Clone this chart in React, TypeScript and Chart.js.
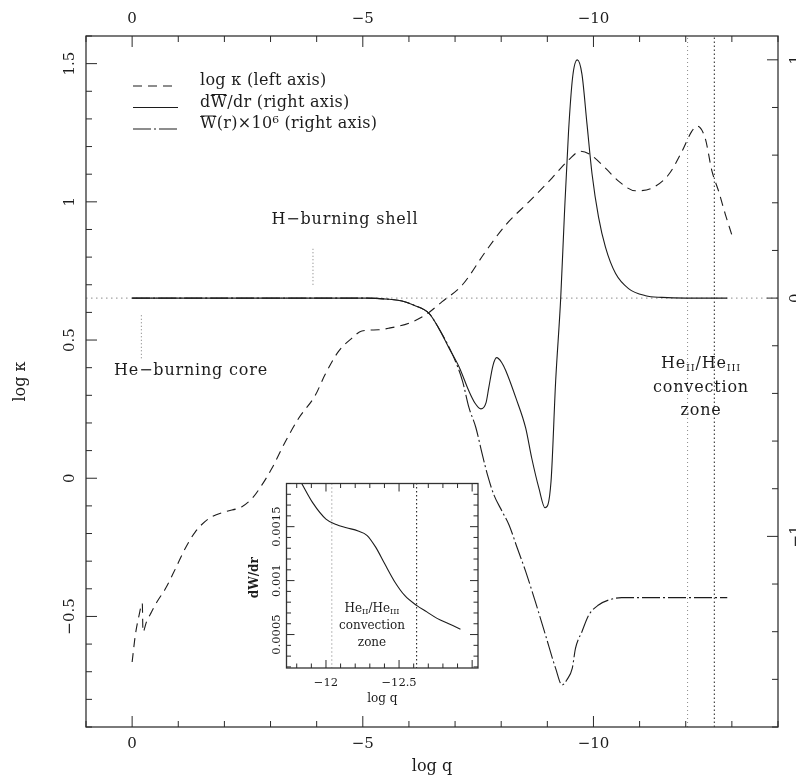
import React, { useEffect, useRef } from 'react';
import { Chart, registerables } from 'chart.js';

Chart.register(...registerables);

const FONT = '"DejaVu Serif", "Liberation Serif", serif';
const INK = '#1c1c1c';

// x = -log q (labelled with a minus sign, as "log q")
const kappaQ = [0, 0.07, 0.15, 0.22, 0.235, 0.31, 0.42, 0.54, 0.72, 0.94, 1.15, 1.37, 1.66, 2.02, 2.38, 2.6, 2.81, 3.03, 3.32, 3.61, 3.97, 4.18, 4.47, 4.76, 4.98, 5.34, 5.57, 6.0, 6.36, 6.72, 7.16, 7.66, 8.1, 8.6, 9.1, 9.47, 9.72, 9.93, 10.26, 10.55, 10.91, 11.27, 11.63, 11.92, 12.13, 12.24, 12.42, 12.57, 12.71, 12.86, 13.0];
const kappaLog = [-0.665, -0.567, -0.496, -0.453, -0.556, -0.52, -0.484, -0.447, -0.4, -0.327, -0.254, -0.194, -0.146, -0.121, -0.103, -0.073, -0.025, 0.036, 0.132, 0.217, 0.3, 0.374, 0.458, 0.506, 0.533, 0.537, 0.543, 0.561, 0.591, 0.639, 0.7, 0.82, 0.917, 1.0, 1.086, 1.153, 1.183, 1.171, 1.122, 1.074, 1.04, 1.05, 1.099, 1.183, 1.255, 1.274, 1.231, 1.11, 1.04, 0.954, 0.88];

const dWdrQ = [0, 5.1, 5.57, 5.85, 6.11, 6.44, 6.65, 6.87, 7.09, 7.3, 7.43, 7.56, 7.67, 7.73, 7.82, 7.9, 8.01, 8.1, 8.32, 8.53, 8.66, 8.82, 8.95, 9.08, 9.18, 9.29, 9.37, 9.46, 9.55, 9.65, 9.75, 9.86, 9.97, 10.11, 10.26, 10.48, 10.76, 11.13, 11.48, 12.0, 12.9];
const dWdrVal = [0, 0, -0.005, -0.012, -0.03, -0.065, -0.128, -0.21, -0.29, -0.39, -0.44, -0.465, -0.44, -0.377, -0.284, -0.25, -0.27, -0.305, -0.42, -0.545, -0.67, -0.8, -0.88, -0.77, -0.35, 0, 0.35, 0.7, 0.93, 1.0, 0.94, 0.73, 0.52, 0.34, 0.214, 0.103, 0.04, 0.01, 0.003, 0, 0];

const workQ = [0, 5.1, 5.57, 5.85, 6.11, 6.44, 6.65, 6.94, 7.16, 7.3, 7.45, 7.59, 7.7, 7.84, 8.02, 8.17, 8.35, 8.53, 8.74, 8.96, 9.18, 9.32, 9.43, 9.54, 9.61, 9.75, 9.9, 10.11, 10.33, 10.61, 12.9];
const workVal = [0, 0, -0.005, -0.012, -0.03, -0.065, -0.128, -0.235, -0.347, -0.459, -0.543, -0.656, -0.74, -0.825, -0.895, -0.952, -1.05, -1.147, -1.274, -1.414, -1.554, -1.624, -1.6, -1.554, -1.47, -1.4, -1.33, -1.288, -1.267, -1.257, -1.257];

const insetQ = [11.83, 11.91, 12.0, 12.07, 12.14, 12.22, 12.28, 12.34, 12.4, 12.47, 12.54, 12.62, 12.69, 12.76, 12.84, 12.92];
const insetDWdr = [0.00191, 0.00172, 0.00157, 0.00152, 0.00149, 0.00146, 0.00142, 0.00131, 0.00116, 0.00099, 0.00086, 0.00077, 0.00071, 0.00065, 0.0006, 0.00055];

const xMajorTicks = [0, 5, 10];
const leftMajorTicks = [-0.5, 0, 0.5, 1, 1.5];
const rightMajorTicks = [-1, 0, 1];
const insetXMajorTicks = [12, 12.5];
const insetYMajorTicks = [0.0005, 0.001, 0.0015];
const convectionZoneEdges = [12.04, 12.62];
const shellMarkQ = 3.92;
const shellMarkLog = [0.7, 0.83];
const coreMarkQ = 0.2;
const coreMarkLog = [0.434, 0.597];
const legendLabels = ['log κ (left axis)', 'dW/dr (right axis)', 'W(r)×10⁶ (right axis)'];

const fmtNeg = (v: number) => (v === 0 ? '0' : '−' + String(Math.abs(v)));
const fmtSigned = (v: number) => (v < 0 ? '−' + String(Math.abs(v)) : String(v));
const pts = (xs: number[], ys: number[]) => xs.map((x, i) => ({ x, y: ys[i] }));
const near = (list: number[], v: number) => list.some((m) => Math.abs(m - v) < 1e-6);

const KAPPA_DASH = [9, 6];
const WORK_DASH = [18, 3, 2, 3];

function line(ctx: CanvasRenderingContext2D, x1: number, y1: number, x2: number, y2: number) {
  ctx.beginPath();
  ctx.moveTo(x1, y1);
  ctx.lineTo(x2, y2);
  ctx.stroke();
}

function rotText(ctx: CanvasRenderingContext2D, t: string, x: number, y: number, base: CanvasTextBaseline = 'middle') {
  ctx.save();
  ctx.translate(x, y);
  ctx.rotate(-Math.PI / 2);
  ctx.textAlign = 'center';
  ctx.textBaseline = base;
  ctx.fillText(t, 0, 0);
  ctx.restore();
}

type Run = { t: string; size: number; dy: number };
function drawRuns(ctx: CanvasRenderingContext2D, runs: Run[], cx: number, y: number) {
  let total = 0;
  runs.forEach((r) => {
    ctx.font = `${r.size}px ${FONT}`;
    total += ctx.measureText(r.t).width;
  });
  let x = cx - total / 2;
  ctx.textAlign = 'left';
  ctx.textBaseline = 'middle';
  runs.forEach((r) => {
    ctx.font = `${r.size}px ${FONT}`;
    ctx.fillText(r.t, x, y + r.dy);
    x += ctx.measureText(r.t).width;
  });
}

const lineDs = (data: any[], yAxisID: string, dash: number[], color = INK, width = 1.1, smooth = true) => ({
  data,
  yAxisID,
  xAxisID: 'x',
  showLine: true,
  borderColor: color,
  borderWidth: width,
  borderDash: dash,
  pointRadius: 0,
  fill: false,
  cubicInterpolationMode: smooth ? 'monotone' : 'default',
  tension: 0,
});

const mainDecor = {
  id: 'mainDecor',
  beforeDraw(chart: any) {
    const ctx = chart.ctx;
    ctx.save();
    ctx.fillStyle = '#fff';
    ctx.fillRect(0, 0, chart.width, chart.height);
    ctx.restore();
  },
  afterDraw(chart: any) {
    const { ctx, chartArea: a, scales } = chart;
    const x = scales.x, y = scales.y, y2 = scales.y2;
    ctx.save();
    ctx.strokeStyle = '#333';
    ctx.lineWidth = 1.3;
    ctx.setLineDash([]);
    ctx.strokeRect(a.left, a.top, a.right - a.left, a.bottom - a.top);
    ctx.lineWidth = 1;
    ctx.strokeStyle = '#2a2a2a';
    for (let i = -1; i <= 14; i++) {
      const px = x.getPixelForValue(i);
      const L = i % 5 === 0 ? 11 : 6;
      line(ctx, px, a.bottom, px, a.bottom - L);
      line(ctx, px, a.top, px, a.top + L);
    }
    for (let i = -9; i <= 16; i++) {
      const py = y.getPixelForValue(i / 10);
      const L = i % 5 === 0 ? 11 : 6;
      line(ctx, a.left, py, a.left + L, py);
    }
    for (let i = -9; i <= 5; i++) {
      const py = y2.getPixelForValue(i / 5);
      const L = i % 5 === 0 ? 11 : 6;
      line(ctx, a.right, py, a.right - L, py);
    }
    ctx.fillStyle = INK;
    ctx.font = `15px ${FONT}`;
    leftMajorTicks.forEach((v) => rotText(ctx, fmtSigned(v), 70, y.getPixelForValue(v)));
    rightMajorTicks.forEach((v) => rotText(ctx, fmtSigned(v), 800, y2.getPixelForValue(v), 'alphabetic'));
    ctx.font = `16px ${FONT}`;
    rotText(ctx, 'log κ', 21, (a.top + a.bottom) / 2);

    // annotations
    (ctx as any).letterSpacing = '0.8px';
    ctx.font = `16px ${FONT}`;
    ctx.textAlign = 'center';
    ctx.textBaseline = 'middle';
    ctx.fillText('H−burning shell', 345, 220);
    ctx.fillText('He−burning core', 191, 371);
    drawRuns(ctx, [
      { t: 'He', size: 16, dy: 0 },
      { t: 'II', size: 10, dy: 4 },
      { t: '/He', size: 16, dy: 0 },
      { t: 'III', size: 10, dy: 4 },
    ], 701, 364);
    ctx.font = `16px ${FONT}`;
    ctx.textAlign = 'center';
    ctx.fillText('convection', 701, 388);
    ctx.fillText('zone', 701, 411);

    // legend
    (ctx as any).letterSpacing = '0.3px';
    const lx1 = 133, lx2 = 178, tx = 200;
    const rows = [81, 102.5, 124];
    const dashes = [KAPPA_DASH, [], WORK_DASH];
    ctx.strokeStyle = INK;
    ctx.lineWidth = 1.1;
    rows.forEach((ry, i) => {
      ctx.setLineDash(dashes[i]);
      line(ctx, lx1, ry + 5, lx2, ry + 5);
    });
    ctx.setLineDash([]);
    ctx.font = `16px ${FONT}`;
    ctx.textAlign = 'left';
    ctx.textBaseline = 'middle';
    rows.forEach((ry, i) => ctx.fillText(legendLabels[i], tx, ry));
    // overlines on W
    const wW = ctx.measureText('W').width;
    const dW = ctx.measureText('d').width;
    ctx.lineWidth = 1;
    line(ctx, tx + dW + 1, rows[1] - 8, tx + dW + wW - 1, rows[1] - 8);
    line(ctx, tx + 1, rows[2] - 8, tx + wW - 1, rows[2] - 8);
    (ctx as any).letterSpacing = '0px';
    ctx.restore();
  },
};

const insetDecor = {
  id: 'insetDecor',
  beforeDraw(chart: any) {
    const { ctx, chartArea: a } = chart;
    ctx.save();
    ctx.fillStyle = '#fff';
    ctx.fillRect(a.left, a.top, a.right - a.left, a.bottom - a.top);
    ctx.restore();
  },
  afterDraw(chart: any) {
    const { ctx, chartArea: a, scales } = chart;
    const x = scales.x, y = scales.y;
    ctx.save();
    ctx.strokeStyle = '#333';
    ctx.lineWidth = 1.3;
    ctx.setLineDash([]);
    ctx.strokeRect(a.left, a.top, a.right - a.left, a.bottom - a.top);
    ctx.lineWidth = 1;
    ctx.strokeStyle = '#2a2a2a';
    for (let i = 118; i <= 130; i++) {
      const px = x.getPixelForValue(i / 10);
      if (px < a.left || px > a.right) continue;
      const L = i % 5 === 0 ? 8 : 4.5;
      line(ctx, px, a.bottom, px, a.bottom - L);
      line(ctx, px, a.top, px, a.top + L);
    }
    for (let i = 2; i <= 19; i++) {
      const py = y.getPixelForValue(i / 10000);
      const L = i % 5 === 0 ? 8 : 4.5;
      line(ctx, a.left, py, a.left + L, py);
      line(ctx, a.right, py, a.right - L, py);
    }
    ctx.fillStyle = INK;
    ctx.font = `11.5px ${FONT}`;
    insetYMajorTicks.forEach((v) => rotText(ctx, String(v), 277, y.getPixelForValue(v)));
    ctx.font = `bold 12px ${FONT}`;
    rotText(ctx, 'dW/dr', 255, (a.top + a.bottom) / 2 + 2);
    drawRuns(ctx, [
      { t: 'He', size: 12, dy: 0 },
      { t: 'II', size: 8, dy: 3 },
      { t: '/He', size: 12, dy: 0 },
      { t: 'III', size: 8, dy: 3 },
    ], 372, 609);
    ctx.font = `12px ${FONT}`;
    ctx.textAlign = 'center';
    ctx.fillText('convection', 372, 626);
    ctx.fillText('zone', 372, 643);
    ctx.restore();
  },
};

export default function App() {
  const mainRef = useRef<HTMLCanvasElement>(null);
  const insetRef = useRef<HTMLCanvasElement>(null);

  useEffect(() => {
    const tickFont = { family: FONT, size: 15 };
    const xTicks = {
      stepSize: 1, includeBounds: false, autoSkip: false, maxRotation: 0, minRotation: 0, padding: 8, color: INK, font: tickFont,
      callback: (v: any) => (near(xMajorTicks, Number(v)) ? fmtNeg(Math.round(Number(v))) : ''),
    };
    const main = new Chart(mainRef.current as HTMLCanvasElement, {
      type: 'scatter',
      data: {
        datasets: [
          lineDs(pts(kappaQ, kappaLog), 'y', KAPPA_DASH),
          lineDs(pts(dWdrQ, dWdrVal), 'y2', []),
          lineDs(pts(workQ, workVal), 'y2', WORK_DASH),
          lineDs(pts([-1, 14], [0, 0]), 'y2', [1.5, 3.5], '#8a8a8a', 1, false),
          lineDs(pts([convectionZoneEdges[0], convectionZoneEdges[0]], [-1.8, 1.1]), 'y2', [1, 3], '#8a8a8a', 1, false),
          lineDs(pts([convectionZoneEdges[1], convectionZoneEdges[1]], [-1.8, 1.1]), 'y2', [1.5, 2.5], '#333', 1.1, false),
          lineDs(pts([shellMarkQ, shellMarkQ], shellMarkLog), 'y', [1, 2.5], '#777', 1, false),
          lineDs(pts([coreMarkQ, coreMarkQ], coreMarkLog), 'y', [1, 2.5], '#777', 1, false),
        ] as any,
      },
      options: {
        animation: false,
        responsive: false,
        devicePixelRatio: 1,
        layout: { padding: 0 },
        plugins: { legend: { display: false }, tooltip: { enabled: false } },
        scales: {
          x: {
            type: 'linear', position: 'bottom', min: -1, max: 14,
            grid: { display: false, drawTicks: false }, border: { display: false },
            ticks: xTicks,
            title: { display: true, text: 'log q', color: INK, font: { family: FONT, size: 16 }, padding: { top: 0, bottom: 4 } },
            afterFit: (s: any) => { s.height = 53; },
          },
          x2: {
            type: 'linear', position: 'top', min: -1, max: 14,
            grid: { display: false, drawTicks: false }, border: { display: false },
            ticks: xTicks,
            afterFit: (s: any) => { s.height = 36; },
          },
          y: {
            type: 'linear', position: 'left', min: -0.9, max: 1.6,
            grid: { display: false, drawTicks: false }, border: { display: false },
            ticks: { display: false },
            afterFit: (s: any) => { s.width = 86; },
          },
          y2: {
            type: 'linear', position: 'right', min: -1.8, max: 1.1,
            grid: { display: false, drawTicks: false }, border: { display: false },
            ticks: { display: false },
            afterFit: (s: any) => { s.width = 18; },
          },
        },
      } as any,
      plugins: [mainDecor],
    });

    const inset = new Chart(insetRef.current as HTMLCanvasElement, {
      type: 'scatter',
      data: {
        datasets: [
          lineDs(pts(insetQ, insetDWdr), 'y', [], INK, 1.1),
          lineDs(pts([convectionZoneEdges[0], convectionZoneEdges[0]], [0, 0.0025]), 'y', [1, 3], '#777', 1, false),
          lineDs(pts([convectionZoneEdges[1], convectionZoneEdges[1]], [0, 0.0025]), 'y', [1.5, 2.5], '#222', 1.1, false),
        ] as any,
      },
      options: {
        animation: false,
        responsive: false,
        devicePixelRatio: 1,
        layout: { padding: { left: 230, top: 483.5, right: 318, bottom: 70 } },
        plugins: { legend: { display: false }, tooltip: { enabled: false } },
        scales: {
          x: {
            type: 'linear', position: 'bottom', min: 11.73, max: 13.04,
            grid: { display: false, drawTicks: false }, border: { display: false },
            ticks: { stepSize: 0.5, includeBounds: false, autoSkip: false, maxRotation: 0, minRotation: 0, padding: 8.5, color: INK,
              font: { family: FONT, size: 11.5 },
              callback: (v: any) => (near(insetXMajorTicks, Number(v)) ? fmtNeg(Number(v)) : '') },
            title: { display: true, text: 'log q', color: INK, font: { family: FONT, size: 12 }, padding: { top: 0, bottom: 3.5 } },
            afterFit: (s: any) => { s.height = 42; },
          },
          y: {
            type: 'linear', position: 'left', min: 0.00019, max: 0.0019,
            grid: { display: false, drawTicks: false }, border: { display: false },
            ticks: { display: false },
            afterFit: (s: any) => { s.width = 56.5; },
          },
        },
      } as any,
      plugins: [insetDecor],
    });

    return () => {
      main.destroy();
      inset.destroy();
    };
  }, []);

  return (
    <div style={{ position: 'absolute', left: 0, top: 0, width: 796, height: 780, background: '#fff' }}>
      <canvas ref={mainRef} width={796} height={780} style={{ position: 'absolute', left: 0, top: 0 }} />
      <canvas ref={insetRef} width={796} height={780} style={{ position: 'absolute', left: 0, top: 0 }} />
    </div>
  );
}
